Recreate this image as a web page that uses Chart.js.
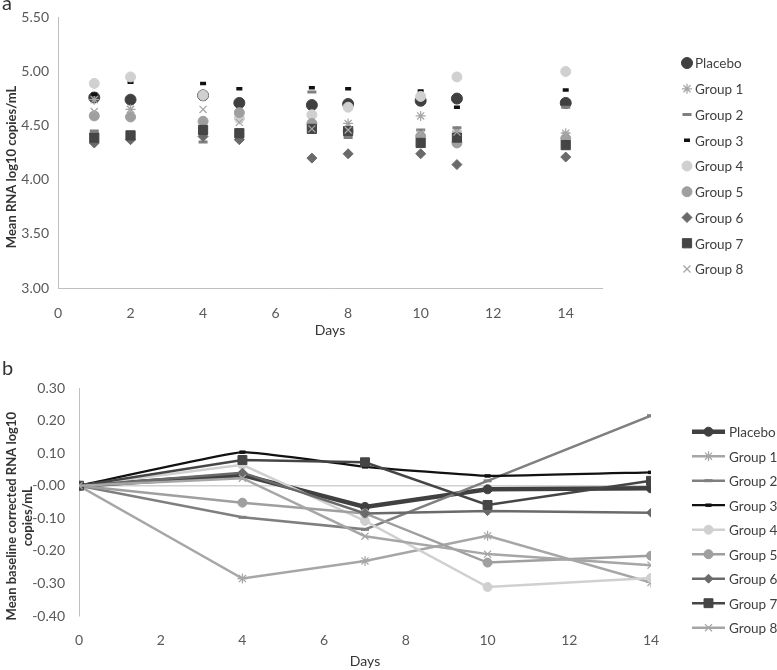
<!DOCTYPE html>
<html>
<head>
<meta charset="utf-8">
<script src="https://cdn.jsdelivr.net/npm/chart.js@4.4.1/dist/chart.umd.min.js"></script>
<style>
  html, body { margin: 0; padding: 0; background: #fff; }
  #wrap { position: relative; width: 777px; height: 670px; overflow: hidden; font-family: Lato, sans-serif; }
  canvas { position: absolute; left: 0; }
  #chartA { top: 0; }
  #chartB { top: 345px; }
  .tag { position: absolute; left: 2px; font-size: 20px; line-height: 24px; color: #333; }
</style>
</head>
<body>
<div id="wrap">
  <canvas id="chartA" width="777" height="345"></canvas>
  <canvas id="chartB" width="777" height="325"></canvas>
  <div class="tag" style="top:-10px">a</div>
  <div class="tag" style="top:355px">b</div>
</div>
<script>
// Panel a: mean RNA (log10 copies/mL) by study day
const daysA = [1, 2, 4, 5, 7, 8, 10, 11, 14];
const placeboA = [4.76, 4.74, 4.78, 4.71, 4.69, 4.70, 4.73, 4.75, 4.71];
const group1A = [4.74, 4.65, 4.42, 4.56, 4.49, 4.52, 4.59, 4.45, 4.43];
const group2A = [4.45, 4.42, 4.35, 4.38, 4.81, 4.39, 4.46, 4.48, 4.67];
const group3A = [4.79, 4.90, 4.89, 4.84, 4.85, 4.84, 4.82, 4.67, 4.83];
const group4A = [4.89, 4.95, 4.78, 4.57, 4.60, 4.67, 4.77, 4.95, 5.00];
const group5A = [4.59, 4.58, 4.54, 4.62, 4.52, 4.45, 4.40, 4.34, 4.38];
const group6A = [4.34, 4.37, 4.40, 4.37, 4.20, 4.24, 4.24, 4.14, 4.21];
const group7A = [4.39, 4.41, 4.46, 4.43, 4.47, 4.45, 4.34, 4.39, 4.32];
const group8A = [4.63, 4.65, 4.65, 4.53, 4.47, 4.46, 4.43, 4.44, 4.41];

// Panel b: change from baseline
const daysB = [0, 4, 7, 10, 14];
const placeboB = [0, 0.033, -0.065, -0.011, -0.008];
const group1B = [0, -0.285, -0.231, -0.154, -0.297];
const group2B = [0, -0.097, -0.134, 0.015, 0.215];
const group3B = [0, 0.103, 0.058, 0.030, 0.041];
const group4B = [0, 0.064, -0.108, -0.311, -0.283];
const group5B = [0, -0.052, -0.085, -0.236, -0.215];
const group6B = [0, 0.040, -0.085, -0.078, -0.083];
const group7B = [0, 0.079, 0.072, -0.059, 0.015];
const group8B = [0, 0.023, -0.155, -0.210, -0.244];

const seriesNames = ['Placebo', 'Group 1', 'Group 2', 'Group 3', 'Group 4', 'Group 5', 'Group 6', 'Group 7', 'Group 8'];
const seriesA = [placeboA, group1A, group2A, group3A, group4A, group5A, group6A, group7A, group8A];
const seriesB = [placeboB, group1B, group2B, group3B, group4B, group5B, group6B, group7B, group8B];

// Marker / line look per series (same order as names)
const looks = [
  { color: '#404040', point: 'circle',   sizeA: 5.5, sizeB: 4.5, edge: 1,    line: 4.5 },
  { color: '#a6a6a6', point: 'star',     sizeA: 5,   sizeB: 5,   edge: 1.25, line: 2.5 },
  { color: '#7f7f7f', point: 'line',     sizeA: 4.5, sizeB: 4,   edge: 3,    line: 2.5 },
  { color: '#111111', point: 'line',     sizeA: 3,   sizeB: 3,   edge: 3.5,  line: 2.25 },
  { color: '#d0d0d0', point: 'circle',   sizeA: 5,   sizeB: 4.5, edge: 1,    line: 2.5 },
  { color: '#9f9f9f', point: 'circle',   sizeA: 5,   sizeB: 4.5, edge: 1,    line: 2.5 },
  { color: '#6a6a6a', point: 'rectRot',  sizeA: 5,   sizeB: 4.5, edge: 1,    line: 2.5 },
  { color: '#454545', point: 'rect',     sizeA: 6.5, sizeB: 6.3, edge: 1,    line: 2.5 },
  { color: '#a6a6a6', point: 'crossRot', sizeA: 5,   sizeB: 5,   edge: 1.25, line: 2.5 }
];

const textColor = '#595959';
const titleColor = '#333333';
const axisColor = '#bfbfbf';
const tickFont = { family: 'Lato', size: 14 };
const titleFont = { family: 'Lato', size: 13, weight: 'bold' };
// trailing blanks nudge the rotated titles down a bit, like the original
const pad = '         ';

function drawMarker(ctx, look, x, y, radius) {
  ctx.fillStyle = look.color;
  ctx.strokeStyle = look.color;
  ctx.lineWidth = look.edge;
  if (Chart.helpers && Chart.helpers.drawPoint) {
    Chart.helpers.drawPoint(ctx, { pointStyle: look.point, radius: radius, borderWidth: look.edge, rotation: 0 }, x, y);
  } else {
    ctx.beginPath();
    ctx.arc(x, y, radius, 0, Math.PI * 2);
    ctx.fill();
  }
}

// legend drawn at fixed spot right of plot
const sideLegend = {
  id: 'sideLegend',
  afterDraw(chart, args, opts) {
    const ctx = chart.ctx;
    ctx.save();
    seriesNames.forEach((name, i) => {
      const look = looks[i];
      const y = opts.top + i * opts.step;
      if (opts.lineLen) {
        ctx.strokeStyle = look.color;
        ctx.lineWidth = look.line;
        ctx.beginPath();
        ctx.moveTo(opts.markX - opts.lineLen / 2, y);
        ctx.lineTo(opts.markX + opts.lineLen / 2, y);
        ctx.stroke();
      }
      drawMarker(ctx, look, opts.markX, y, opts.panel === 'a' ? look.sizeA : look.sizeB);
      ctx.fillStyle = '#404040';
      ctx.font = '13.5px Lato';
      ctx.textBaseline = 'middle';
      ctx.textAlign = 'left';
      ctx.fillText(name, opts.textX, y + 1);
    });
    ctx.restore();
  }
};

// Panel a
new Chart(document.getElementById('chartA'), {
  type: 'scatter',
  data: {
    datasets: seriesA.map((vals, i) => ({
      label: seriesNames[i],
      data: daysA.map((d, j) => ({ x: d, y: vals[j] })),
      pointStyle: looks[i].point,
      pointRadius: looks[i].sizeA,
      pointBackgroundColor: looks[i].color,
      pointBorderColor: looks[i].color,
      pointBorderWidth: looks[i].edge,
      order: seriesNames.length - i
    }))
  },
  options: {
    responsive: false,
    animation: false,
    layout: { padding: { top: 14, right: 175, left: 0, bottom: 0 } },
    plugins: {
      legend: { display: false },
      tooltip: { enabled: false },
      sideLegend: { panel: 'a', top: 63, step: 25.75, markX: 687, textX: 695 }
    },
    scales: {
      x: {
        type: 'linear', min: 0, max: 15,
        ticks: { stepSize: 2, includeBounds: false, padding: 17, color: textColor, font: tickFont },
        grid: { display: false, drawTicks: false },
        border: { color: axisColor },
        title: { display: true, text: 'Days', color: titleColor, font: { family: 'Lato', size: 14 }, padding: { top: 0, bottom: 6 } },
        afterFit: s => { s.height = 57; }
      },
      y: {
        min: 3, max: 5.5,
        ticks: { stepSize: 0.5, padding: 9, color: textColor, font: tickFont, callback: v => v.toFixed(2) },
        grid: { display: false, drawTicks: false },
        border: { color: axisColor },
        title: { display: true, text: 'Mean RNA log10 copies/mL' + pad, color: titleColor, font: titleFont },
        afterFit: s => { s.width = 58; }
      }
    }
  },
  plugins: [sideLegend]
});

// Panel b
new Chart(document.getElementById('chartB'), {
  type: 'line',
  data: {
    datasets: seriesB.map((vals, i) => ({
      label: seriesNames[i],
      data: daysB.map((d, j) => ({ x: d, y: vals[j] })),
      borderColor: looks[i].color,
      borderWidth: looks[i].line,
      pointStyle: looks[i].point,
      pointRadius: looks[i].sizeB,
      pointBackgroundColor: looks[i].color,
      pointBorderColor: looks[i].color,
      pointBorderWidth: looks[i].edge,
      tension: i === 3 ? 0.1 : 0,
      fill: false,
      order: seriesNames.length - i
    }))
  },
  options: {
    responsive: false,
    animation: false,
    layout: { padding: { top: 43, right: 126, left: 0, bottom: 0 } },
    plugins: {
      legend: { display: false },
      tooltip: { enabled: false },
      sideLegend: { panel: 'b', top: 86.7, step: 24.5, markX: 708.5, textX: 729, lineLen: 33 }
    },
    scales: {
      x: {
        type: 'linear', min: 0, max: 14,
        ticks: { stepSize: 2, padding: 16, color: textColor, font: tickFont },
        grid: { display: false, drawTicks: false },
        border: { display: false },
        title: { display: true, text: 'Days', color: titleColor, font: { family: 'Lato', size: 14 }, padding: { top: 0, bottom: 0 } },
        afterFit: s => { s.height = 54; }
      },
      y: {
        min: -0.4, max: 0.3,
        ticks: { stepSize: 0.1, padding: 14, color: textColor, font: tickFont, callback: v => v.toFixed(2) },
        grid: {
          drawTicks: false,
          color: c => Math.abs(c.tick.value) < 1e-6 ? '#d0d0d0' : 'rgba(0,0,0,0)',
          lineWidth: 1.5
        },
        border: { color: axisColor },
        title: { display: true, text: ['Mean baseline corrected RNA log10' + pad, 'copies/mL' + pad], color: titleColor, font: titleFont },
        afterFit: s => { s.width = 79; }
      }
    }
  },
  plugins: [sideLegend]
});
</script>
</body>
</html>
